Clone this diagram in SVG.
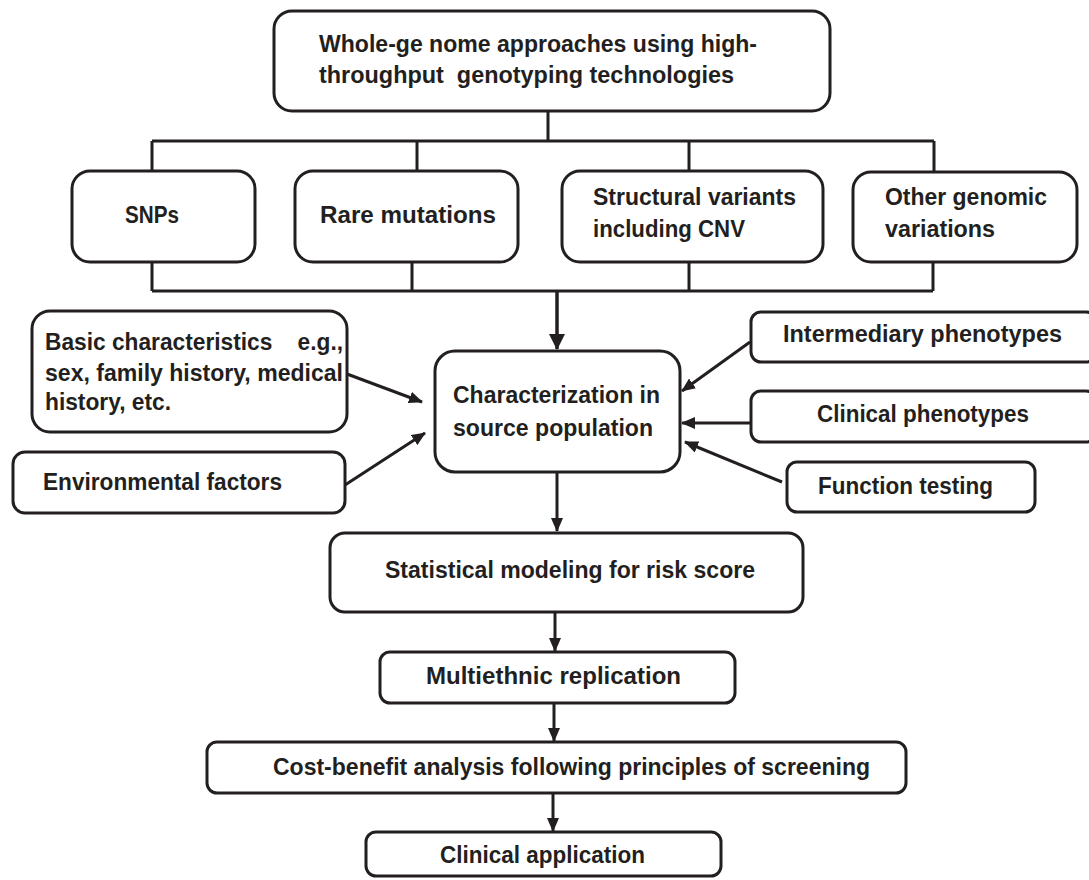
<svg xmlns="http://www.w3.org/2000/svg" width="1089" height="880" viewBox="0 0 1089 880">
<style>
.box{fill:#fff;stroke:#231f20;stroke-width:3}
.ln{fill:none;stroke:#231f20;stroke-width:3}
.ar{fill:none;stroke:#231f20;stroke-width:3;marker-end:url(#ah)}
.big{fill:none;stroke:#231f20;stroke-width:3.5;marker-end:url(#ahb)}
text{font-family:"Liberation Sans",Arial,sans-serif;font-weight:bold;font-size:23px;fill:#231f20;white-space:pre}
</style>
<defs>
<marker id="ah" markerUnits="userSpaceOnUse" markerWidth="14" markerHeight="12" refX="13" refY="6" orient="auto"><path d="M0,0 L14,6 L0,12 z" fill="#231f20"/></marker>
<marker id="ahb" markerUnits="userSpaceOnUse" markerWidth="16" markerHeight="16" refX="15" refY="8" orient="auto"><path d="M0,0 L16,8 L0,16 z" fill="#231f20"/></marker>
</defs>
<rect width="1089" height="880" fill="#fff"/>
<g id="connectors">
<path class="ln" d="M548,111 V141 M152,141 H934 M152,141 V171 M417,141 V171 M689,141 V171 M934,141 V172"/>
<path class="ln" d="M152,262 V291 M412,262 V291 M689,262 V291 M933,262 V291 M152,291 H933"/>
<path class="big" d="M557,291 V349"/>
<path class="ar" d="M347,374 L422,402"/>
<path class="ar" d="M345,485 L425,433"/>
<path class="ar" d="M750,342 L682,391"/>
<path class="ar" d="M751,423 L682,423"/>
<path class="ar" d="M782,482 L685,442"/>
<path class="ar" d="M557,472 V531"/>
<path class="ar" d="M555,612 V651"/>
<path class="ar" d="M554,703 V741"/>
<path class="ar" d="M553,793 V831"/>
</g>
<g id="top"><rect class="box" x="274" y="11" width="556" height="100" rx="18"/>
<text x="319" y="52" textLength="438" lengthAdjust="spacingAndGlyphs">Whole-ge nome approaches using high-</text>
<text x="319" y="83" textLength="415" lengthAdjust="spacingAndGlyphs">throughput  genotyping technologies</text></g>
<g id="snps"><rect class="box" x="72" y="171" width="183" height="91" rx="18"/>
<text x="125" y="223" textLength="54" lengthAdjust="spacingAndGlyphs">SNPs</text></g>
<g id="rare"><rect class="box" x="295" y="171" width="223" height="91" rx="18"/>
<text x="320" y="223" textLength="176" lengthAdjust="spacingAndGlyphs">Rare mutations</text></g>
<g id="structural"><rect class="box" x="562" y="171" width="261" height="91" rx="18"/>
<text x="593" y="205" textLength="203" lengthAdjust="spacingAndGlyphs">Structural variants</text>
<text x="593" y="237" textLength="152" lengthAdjust="spacingAndGlyphs">including CNV</text></g>
<g id="other"><rect class="box" x="853" y="172" width="224" height="90" rx="18"/>
<text x="885" y="205" textLength="162" lengthAdjust="spacingAndGlyphs">Other genomic</text>
<text x="885" y="237" textLength="110" lengthAdjust="spacingAndGlyphs">variations</text></g>
<g id="basic"><rect class="box" x="32" y="311" width="315" height="121" rx="18"/>
<text x="45" y="350" textLength="298" lengthAdjust="spacingAndGlyphs">Basic characteristics    e.g.,</text>
<text x="45" y="381" textLength="298" lengthAdjust="spacingAndGlyphs">sex, family history, medical</text>
<text x="45" y="410" textLength="126" lengthAdjust="spacingAndGlyphs">history, etc.</text></g>
<g id="environmental"><rect class="box" x="13" y="452" width="332" height="61" rx="12"/>
<text x="43" y="490" textLength="239" lengthAdjust="spacingAndGlyphs">Environmental factors</text></g>
<g id="characterization"><rect class="box" x="435" y="351" width="245" height="121" rx="20"/>
<text x="453" y="403" textLength="207" lengthAdjust="spacingAndGlyphs">Characterization in</text>
<text x="453" y="436" textLength="200" lengthAdjust="spacingAndGlyphs">source population</text></g>
<g id="intermediary"><rect class="box" x="751" y="312" width="345" height="50" rx="10"/>
<text x="783" y="342" textLength="279" lengthAdjust="spacingAndGlyphs">Intermediary phenotypes</text></g>
<g id="clinical-phenotypes"><rect class="box" x="751" y="391" width="345" height="51" rx="10"/>
<text x="817" y="422" textLength="212" lengthAdjust="spacingAndGlyphs">Clinical phenotypes</text></g>
<g id="function"><rect class="box" x="787" y="462" width="248" height="50" rx="10"/>
<text x="818" y="494" textLength="175" lengthAdjust="spacingAndGlyphs">Function testing</text></g>
<g id="statistical"><rect class="box" x="330" y="533" width="473" height="79" rx="15"/>
<text x="385" y="578" textLength="370" lengthAdjust="spacingAndGlyphs">Statistical modeling for risk score</text></g>
<g id="multiethnic"><rect class="box" x="380" y="652" width="355" height="51" rx="10"/>
<text x="426" y="684" textLength="255" lengthAdjust="spacingAndGlyphs">Multiethnic replication</text></g>
<g id="cost-benefit"><rect class="box" x="207" y="742" width="699" height="51" rx="10"/>
<text x="273" y="775" textLength="597" lengthAdjust="spacingAndGlyphs">Cost-benefit analysis following principles of screening</text></g>
<g id="clinical-application"><rect class="box" x="366" y="832" width="355" height="44" rx="10"/>
<text x="440" y="863" textLength="205" lengthAdjust="spacingAndGlyphs">Clinical application</text></g>
</svg>
